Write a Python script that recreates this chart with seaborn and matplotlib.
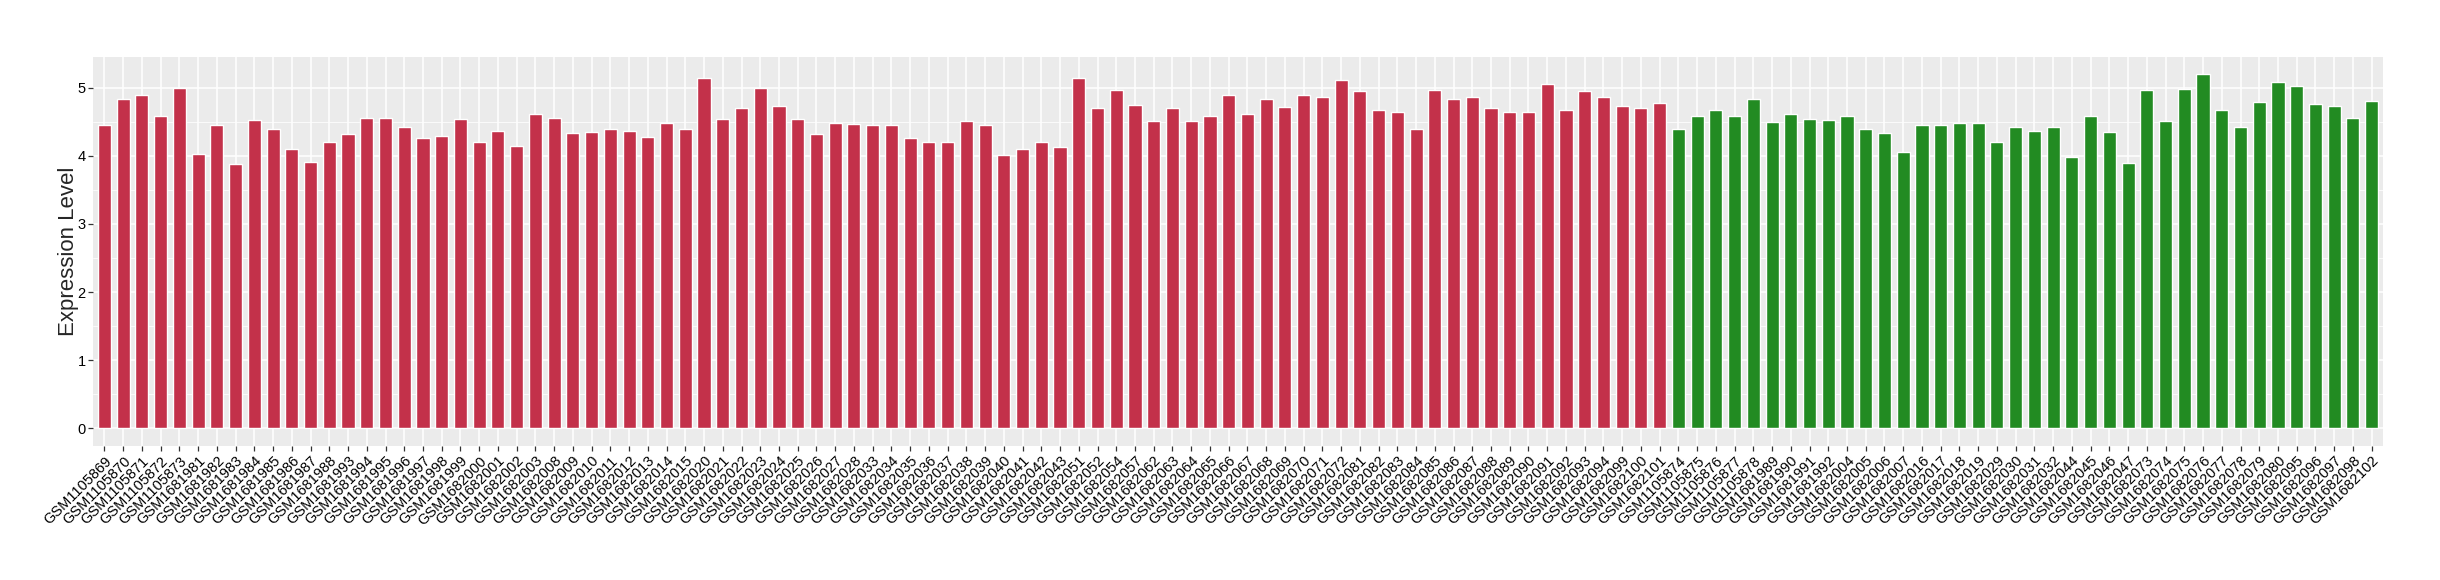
import matplotlib
matplotlib.use("Agg")
import matplotlib.pyplot as plt
import numpy as np
import pandas as pd
import seaborn as sns

#%% Data
red_samples = [
    'GSM1105869', 'GSM1105870', 'GSM1105871', 'GSM1105872', 'GSM1105873',
    'GSM1681981', 'GSM1681982', 'GSM1681983', 'GSM1681984', 'GSM1681985',
    'GSM1681986', 'GSM1681987', 'GSM1681988', 'GSM1681993', 'GSM1681994',
    'GSM1681995', 'GSM1681996', 'GSM1681997', 'GSM1681998', 'GSM1681999',
    'GSM1682000', 'GSM1682001', 'GSM1682002', 'GSM1682003', 'GSM1682008',
    'GSM1682009', 'GSM1682010', 'GSM1682011', 'GSM1682012', 'GSM1682013',
    'GSM1682014', 'GSM1682015', 'GSM1682020', 'GSM1682021', 'GSM1682022',
    'GSM1682023', 'GSM1682024', 'GSM1682025', 'GSM1682026', 'GSM1682027',
    'GSM1682028', 'GSM1682033', 'GSM1682034', 'GSM1682035', 'GSM1682036',
    'GSM1682037', 'GSM1682038', 'GSM1682039', 'GSM1682040', 'GSM1682041',
    'GSM1682042', 'GSM1682043', 'GSM1682051', 'GSM1682052', 'GSM1682054',
    'GSM1682057', 'GSM1682062', 'GSM1682063', 'GSM1682064', 'GSM1682065',
    'GSM1682066', 'GSM1682067', 'GSM1682068', 'GSM1682069', 'GSM1682070',
    'GSM1682071', 'GSM1682072', 'GSM1682081', 'GSM1682082', 'GSM1682083',
    'GSM1682084', 'GSM1682085', 'GSM1682086', 'GSM1682087', 'GSM1682088',
    'GSM1682089', 'GSM1682090', 'GSM1682091', 'GSM1682092', 'GSM1682093',
    'GSM1682094', 'GSM1682099', 'GSM1682100', 'GSM1682101',
]
red_values = [
    4.45, 4.83, 4.90, 4.59, 4.99,
    4.02, 4.45, 3.88, 4.52, 4.40,
    4.10, 3.91, 4.20, 4.32, 4.55,
    4.55, 4.43, 4.26, 4.29, 4.54,
    4.21, 4.36, 4.14, 4.61, 4.55,
    4.33, 4.35, 4.39, 4.36, 4.27,
    4.48, 4.39, 5.15, 4.54, 4.70,
    4.99, 4.73, 4.54, 4.32, 4.48,
    4.47, 4.46, 4.45, 4.26, 4.21,
    4.21, 4.51, 4.46, 4.01, 4.10,
    4.21, 4.13, 5.15, 4.70, 4.96,
    4.74, 4.51, 4.70, 4.51, 4.58,
    4.89, 4.62, 4.84, 4.71, 4.90,
    4.87, 5.12, 4.95, 4.67, 4.64,
    4.39, 4.96, 4.83, 4.87, 4.70,
    4.65, 4.64, 5.05, 4.67, 4.95,
    4.87, 4.73, 4.70, 4.77,
]

green_samples = [
    'GSM1105874', 'GSM1105875', 'GSM1105876', 'GSM1105877', 'GSM1105878',
    'GSM1681989', 'GSM1681990', 'GSM1681991', 'GSM1681992', 'GSM1682004',
    'GSM1682005', 'GSM1682006', 'GSM1682007', 'GSM1682016', 'GSM1682017',
    'GSM1682018', 'GSM1682019', 'GSM1682029', 'GSM1682030', 'GSM1682031',
    'GSM1682032', 'GSM1682044', 'GSM1682045', 'GSM1682046', 'GSM1682047',
    'GSM1682073', 'GSM1682074', 'GSM1682075', 'GSM1682076', 'GSM1682077',
    'GSM1682078', 'GSM1682079', 'GSM1682080', 'GSM1682095', 'GSM1682096',
    'GSM1682097', 'GSM1682098', 'GSM1682102',
]
green_values = [
    4.39, 4.59, 4.67, 4.59, 4.83,
    4.49, 4.61, 4.54, 4.52, 4.58,
    4.40, 4.33, 4.05, 4.45, 4.46,
    4.48, 4.48, 4.21, 4.43, 4.36,
    4.42, 3.98, 4.59, 4.35, 3.89,
    4.96, 4.51, 4.98, 5.20, 4.68,
    4.42, 4.79, 5.09, 5.02, 4.76,
    4.73, 4.55, 4.80,
]

group_colors = {'red': '#C3314A', 'green': '#228B22'}

data = pd.DataFrame({
    'sample': red_samples + green_samples,
    'value': red_values + green_values,
    'group': ['red'] * len(red_samples) + ['green'] * len(green_samples),
})

#%% Figure
sns.set_style("darkgrid", {
    'axes.facecolor': '#EBEBEB',
    'grid.color': 'white',
    'axes.edgecolor': 'none',
    'xtick.bottom': True,
    'ytick.left': True,
})
plt.rcParams['font.family'] = ['Liberation Sans', 'DejaVu Sans']

fig = plt.figure(figsize=(24.4, 5.8), dpi=100)
ax = fig.add_axes([0.0382, 0.231, 0.9384, 0.6712])

sns.barplot(data=data, x='sample', y='value', hue='group',
            palette=group_colors, width=0.7, saturation=1,
            legend=False, ax=ax, zorder=3)

ax.set_xlim(-0.6, len(data) - 0.4)
ax.set_ylim(-0.26, 5.455)
ax.set_yticks(np.arange(0, 6, 1))
ax.set_yticks(np.arange(0.5, 5.5, 1), minor=True)
ax.grid(which='major', color='white', linewidth=1.1)
ax.grid(which='minor', axis='y', color='white', linewidth=0.55)
ax.set_axisbelow(True)

ax.tick_params(axis='both', which='major', length=3.5, width=0.9,
               color='#333333', labelcolor='black', pad=2)
ax.tick_params(axis='x', labelsize=10.5)
ax.tick_params(axis='y', labelsize=10.5)
ax.tick_params(axis='y', which='minor', length=0)
plt.setp(ax.get_xticklabels(), rotation=45, ha='right', va='top',
         rotation_mode='anchor')

ax.set_xlabel('')
ax.set_ylabel('Expression Level', fontsize=16, labelpad=-1)

fig.savefig('out.png', dpi=100)
